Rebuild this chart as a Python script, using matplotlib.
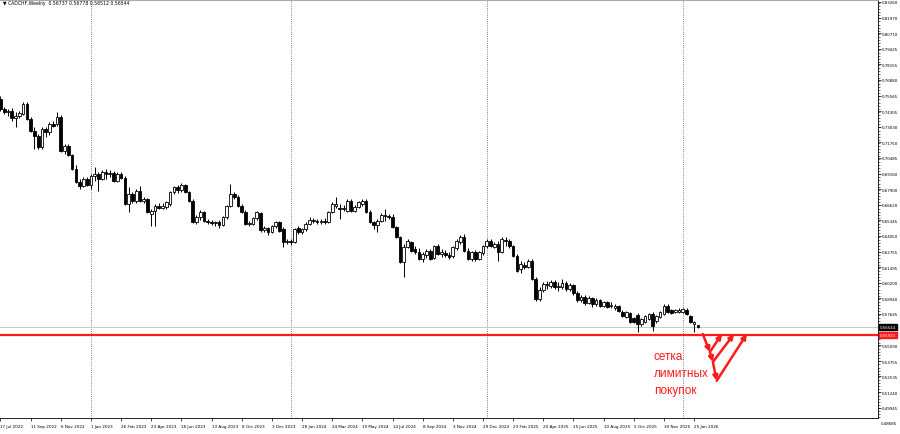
import matplotlib
matplotlib.use("Agg")
import matplotlib.pyplot as plt
import numpy as np
import pandas as pd

# weekly CADCHF bars, first bar 17 Jul 2022
opens = [
    0.7530, 0.7448, 0.7423, 0.7431, 0.7374, 0.7390, 0.7407, 0.7489, 0.7365, 0.7267,
    0.7226, 0.7136, 0.7283, 0.7259, 0.7324, 0.7324, 0.7382, 0.7103, 0.7144, 0.7070,
    0.6955, 0.6848, 0.6815, 0.6873, 0.6824, 0.6898, 0.6914, 0.6873, 0.6930, 0.6914,
    0.6922, 0.6857, 0.6914, 0.6881, 0.6668, 0.6750, 0.6692, 0.6774, 0.6692, 0.6709,
    0.6586, 0.6610, 0.6651, 0.6635, 0.6643, 0.6668, 0.6766, 0.6807, 0.6783, 0.6824,
    0.6766, 0.6692, 0.6520, 0.6561, 0.6602, 0.6528, 0.6520, 0.6512, 0.6520, 0.6495,
    0.6561, 0.6651, 0.6750, 0.6725, 0.6651, 0.6602, 0.6503, 0.6503, 0.6553, 0.6594,
    0.6454, 0.6471, 0.6438, 0.6487, 0.6520, 0.6462, 0.6356, 0.6364, 0.6356, 0.6471,
    0.6438, 0.6462, 0.6503, 0.6536, 0.6528, 0.6520, 0.6528, 0.6520, 0.6602, 0.6651,
    0.6635, 0.6627, 0.6610, 0.6692, 0.6610, 0.6643, 0.6668, 0.6692, 0.6602, 0.6520,
    0.6495, 0.6528, 0.6577, 0.6569, 0.6561, 0.6479, 0.6397, 0.6192, 0.6315, 0.6356,
    0.6298, 0.6273, 0.6216, 0.6249, 0.6282, 0.6224, 0.6323, 0.6257, 0.6265, 0.6249,
    0.6241, 0.6306, 0.6356, 0.6397, 0.6282, 0.6216, 0.6273, 0.6216, 0.6265, 0.6323,
    0.6364, 0.6315, 0.6339, 0.6273, 0.6372, 0.6364, 0.6323, 0.6241, 0.6134, 0.6167,
    0.6151, 0.6200, 0.6052, 0.5888, 0.5962, 0.6011, 0.5994, 0.6027, 0.5986, 0.5986,
    0.6019, 0.5970, 0.6003, 0.5937, 0.5879, 0.5904, 0.5855, 0.5896, 0.5847, 0.5879,
    0.5830, 0.5863, 0.5830, 0.5814, 0.5830, 0.5781, 0.5740, 0.5773, 0.5732, 0.5757,
    0.5682, 0.5699, 0.5724, 0.5765, 0.5707, 0.5740, 0.5765, 0.5830, 0.5798, 0.5781,
    0.5781, 0.5781, 0.5798, 0.5748, 0.5682, 0.56737,
]
highs = [
    0.7554, 0.7464, 0.7448, 0.7456, 0.7423, 0.7431, 0.7505, 0.7505, 0.7382, 0.7300,
    0.7242, 0.7300, 0.7300, 0.7341, 0.7349, 0.7423, 0.7398, 0.7160, 0.7160, 0.7078,
    0.6988, 0.6873, 0.6890, 0.6890, 0.6914, 0.6971, 0.6930, 0.6947, 0.6955, 0.6947,
    0.6938, 0.6930, 0.6930, 0.6898, 0.6807, 0.6766, 0.6791, 0.6815, 0.6725, 0.6717,
    0.6627, 0.6668, 0.6676, 0.6676, 0.6692, 0.6774, 0.6815, 0.6824, 0.6840, 0.6832,
    0.6774, 0.6709, 0.6577, 0.6618, 0.6610, 0.6545, 0.6536, 0.6528, 0.6536, 0.6569,
    0.6659, 0.6832, 0.6766, 0.6742, 0.6668, 0.6618, 0.6528, 0.6561, 0.6610, 0.6602,
    0.6487, 0.6479, 0.6495, 0.6528, 0.6528, 0.6479, 0.6380, 0.6380, 0.6471, 0.6487,
    0.6471, 0.6520, 0.6561, 0.6553, 0.6545, 0.6545, 0.6553, 0.6610, 0.6684, 0.6725,
    0.6668, 0.6659, 0.6709, 0.6709, 0.6659, 0.6692, 0.6709, 0.6709, 0.6618, 0.6528,
    0.6545, 0.6594, 0.6627, 0.6586, 0.6586, 0.6487, 0.6405, 0.6339, 0.6380, 0.6364,
    0.6323, 0.6306, 0.6273, 0.6298, 0.6298, 0.6331, 0.6339, 0.6298, 0.6290, 0.6273,
    0.6323, 0.6380, 0.6413, 0.6421, 0.6306, 0.6282, 0.6290, 0.6282, 0.6331, 0.6380,
    0.6380, 0.6356, 0.6364, 0.6397, 0.6397, 0.6380, 0.6331, 0.6257, 0.6200, 0.6192,
    0.6216, 0.6216, 0.6068, 0.5986, 0.6027, 0.6035, 0.6044, 0.6044, 0.6027, 0.6052,
    0.6035, 0.6019, 0.6011, 0.5953, 0.5921, 0.5921, 0.5912, 0.5904, 0.5896, 0.5888,
    0.5871, 0.5871, 0.5863, 0.5847, 0.5839, 0.5798, 0.5789, 0.5781, 0.5740, 0.5773,
    0.5732, 0.5757, 0.5773, 0.5781, 0.5757, 0.5789, 0.5847, 0.5847, 0.5806, 0.5806,
    0.5814, 0.5814, 0.5814, 0.5757, 0.5707, 0.56778,
]
lows = [
    0.7431, 0.7407, 0.7390, 0.7349, 0.7300, 0.7374, 0.7398, 0.7357, 0.7259, 0.7119,
    0.7119, 0.7119, 0.7218, 0.7234, 0.7300, 0.7308, 0.7095, 0.7078, 0.7062, 0.6947,
    0.6840, 0.6791, 0.6807, 0.6815, 0.6791, 0.6857, 0.6774, 0.6865, 0.6873, 0.6890,
    0.6848, 0.6848, 0.6873, 0.6659, 0.6602, 0.6676, 0.6676, 0.6684, 0.6676, 0.6594,
    0.6487, 0.6487, 0.6627, 0.6627, 0.6627, 0.6651, 0.6750, 0.6758, 0.6766, 0.6758,
    0.6684, 0.6512, 0.6503, 0.6536, 0.6520, 0.6503, 0.6495, 0.6487, 0.6471, 0.6487,
    0.6545, 0.6643, 0.6709, 0.6643, 0.6594, 0.6495, 0.6487, 0.6495, 0.6536, 0.6438,
    0.6438, 0.6413, 0.6430, 0.6471, 0.6438, 0.6315, 0.6339, 0.6331, 0.6347, 0.6421,
    0.6421, 0.6446, 0.6495, 0.6512, 0.6503, 0.6503, 0.6503, 0.6512, 0.6594, 0.6635,
    0.6545, 0.6610, 0.6602, 0.6602, 0.6602, 0.6635, 0.6651, 0.6594, 0.6512, 0.6462,
    0.6438, 0.6520, 0.6528, 0.6545, 0.6471, 0.6389, 0.6183, 0.6068, 0.6306, 0.6273,
    0.6257, 0.6208, 0.6192, 0.6224, 0.6208, 0.6216, 0.6249, 0.6232, 0.6232, 0.6216,
    0.6224, 0.6290, 0.6339, 0.6273, 0.6208, 0.6200, 0.6200, 0.6208, 0.6249, 0.6306,
    0.6315, 0.6306, 0.6200, 0.6265, 0.6323, 0.6306, 0.6232, 0.6109, 0.6101, 0.6134,
    0.6142, 0.6044, 0.5871, 0.5871, 0.5945, 0.5970, 0.5978, 0.5970, 0.5953, 0.5970,
    0.5953, 0.5953, 0.5921, 0.5863, 0.5863, 0.5839, 0.5847, 0.5822, 0.5830, 0.5822,
    0.5822, 0.5814, 0.5814, 0.5798, 0.5781, 0.5740, 0.5732, 0.5691, 0.5691, 0.5617,
    0.5666, 0.5691, 0.5716, 0.5625, 0.5691, 0.5732, 0.5757, 0.5773, 0.5765, 0.5773,
    0.5773, 0.5773, 0.5757, 0.5691, 0.5617, 0.56512,
]
closes = [
    0.7448, 0.7423, 0.7431, 0.7374, 0.7390, 0.7415, 0.7489, 0.7365, 0.7267, 0.7226,
    0.7136, 0.7283, 0.7259, 0.7324, 0.7308, 0.7382, 0.7103, 0.7144, 0.7070, 0.6955,
    0.6848, 0.6815, 0.6873, 0.6824, 0.6898, 0.6914, 0.6873, 0.6930, 0.6914, 0.6922,
    0.6857, 0.6914, 0.6881, 0.6668, 0.6750, 0.6692, 0.6774, 0.6692, 0.6709, 0.6602,
    0.6610, 0.6651, 0.6635, 0.6651, 0.6684, 0.6766, 0.6807, 0.6783, 0.6824, 0.6766,
    0.6692, 0.6520, 0.6561, 0.6602, 0.6528, 0.6520, 0.6512, 0.6520, 0.6495, 0.6561,
    0.6651, 0.6750, 0.6725, 0.6651, 0.6602, 0.6503, 0.6512, 0.6553, 0.6602, 0.6454,
    0.6471, 0.6438, 0.6487, 0.6520, 0.6446, 0.6356, 0.6364, 0.6356, 0.6462, 0.6438,
    0.6462, 0.6503, 0.6536, 0.6528, 0.6520, 0.6528, 0.6520, 0.6602, 0.6668, 0.6668,
    0.6627, 0.6635, 0.6692, 0.6610, 0.6643, 0.6684, 0.6692, 0.6602, 0.6520, 0.6495,
    0.6528, 0.6577, 0.6569, 0.6561, 0.6479, 0.6397, 0.6192, 0.6315, 0.6364, 0.6282,
    0.6273, 0.6216, 0.6257, 0.6282, 0.6216, 0.6323, 0.6257, 0.6273, 0.6249, 0.6232,
    0.6315, 0.6364, 0.6397, 0.6282, 0.6216, 0.6273, 0.6216, 0.6273, 0.6323, 0.6364,
    0.6323, 0.6339, 0.6273, 0.6380, 0.6364, 0.6323, 0.6241, 0.6118, 0.6175, 0.6151,
    0.6200, 0.6052, 0.5888, 0.5962, 0.6011, 0.6003, 0.6027, 0.5986, 0.5994, 0.6019,
    0.5970, 0.6003, 0.5937, 0.5879, 0.5904, 0.5855, 0.5896, 0.5847, 0.5879, 0.5830,
    0.5863, 0.5822, 0.5839, 0.5830, 0.5789, 0.5748, 0.5781, 0.5699, 0.5699, 0.5682,
    0.5724, 0.5748, 0.5765, 0.5666, 0.5748, 0.5781, 0.5830, 0.5781, 0.5773, 0.5798,
    0.5798, 0.5806, 0.5765, 0.5699, 0.5699, 0.56544,
]

weeks = pd.date_range("2022-07-17", periods=len(closes), freq="7D")

date_labels = ["17 Jul 2022", "11 Sep 2022", "6 Nov 2022", "1 Jan 2023", "26 Feb 2023",
               "23 Apr 2023", "18 Jun 2023", "13 Aug 2023", "8 Oct 2023", "3 Dec 2023",
               "28 Jan 2024", "24 Mar 2024", "19 May 2024", "14 Jul 2024", "8 Sep 2024",
               "3 Nov 2024", "29 Dec 2024", "23 Feb 2025", "20 Apr 2025", "15 Jun 2025",
               "10 Aug 2025", "5 Oct 2025", "30 Nov 2025", "25 Jan 2026"]

price_ticks = [0.83260, 0.81970, 0.80710, 0.79425, 0.78155, 0.76880, 0.75565, 0.74305,
               0.73030, 0.71750, 0.70485, 0.69160, 0.67900, 0.66620, 0.65345, 0.64050,
               0.62755, 0.61495, 0.60200, 0.58940, 0.57645, 0.55090, 0.53755, 0.52535,
               0.51240, 0.49945]
bottom_tick = "0.48685"

year_starts = ["2023-01-01", "2024-01-07", "2025-01-05", "2026-01-04"]

last_price = 0.56544
red_level = 0.55921
red_label = "0.55921"
header = "\u25bc CADCHF,Weekly  0.56737 0.56778 0.56512 0.56544"
note = "сетка\nлимитных\nпокупок"

fig = plt.figure(figsize=(9, 4.35), dpi=100)
ax = fig.add_axes([0, 16 / 435, 878 / 900, 418 / 435])

idx = np.arange(len(closes))
o = np.array(opens)
h = np.array(highs)
l = np.array(lows)
c = np.array(closes)

ax.vlines(idx, l, h, color="black", lw=0.7, zorder=2)
bull = c >= o
body_lo = np.minimum(o, c)
body_h = np.maximum(np.abs(c - o), 0.0002)
ax.bar(idx[bull], body_h[bull], bottom=body_lo[bull], width=0.7,
       color="white", edgecolor="black", lw=0.6, zorder=3)
ax.bar(idx[~bull], body_h[~bull], bottom=body_lo[~bull], width=0.7,
       color="black", edgecolor="black", lw=0.6, zorder=3)

# period separators
for ys in year_starts:
    pos = weeks.get_loc(pd.Timestamp(ys))
    ax.axvline(pos, color="#555555", lw=0.6, ls=(0, (1, 1.6)), zorder=1)

# bid line and red level
ax.axhline(last_price, color="#c8c8c8", lw=0.7, zorder=1)
ax.axhline(red_level, color="#ff1a1a", lw=1.6, zorder=4)

# grid of limit buys
down = [(186.3, 0.5600), (188.2, 0.5453), (189.0, 0.5371), (190.0, 0.5216)]
tops = [191.4, 194.6, 198.0]
aprops = dict(arrowstyle="-|>", color="#ff1a1a", lw=1.8, mutation_scale=7,
              shrinkA=0, shrinkB=0)
for a, b in zip(down[:-1], down[1:]):
    ax.annotate("", xy=b, xytext=a, arrowprops=aprops, zorder=5)
for start, tx in zip(down[1:], tops):
    ax.annotate("", xy=(tx, 0.5600), xytext=start, arrowprops=aprops, zorder=5)

ax.text(173.3, 0.5472, note, color="#ff1a1a", fontsize=8.5,
        family="Liberation Sans", va="top", ha="left", linespacing=1.55)

ax.set_xlim(-0.13, 232.8)
ax.set_ylim(0.49106, 0.83424)

ax.yaxis.tick_right()
ax.set_yticks(price_ticks)
ax.set_yticklabels([f"{v:.5f}" for v in price_ticks])
ax.yaxis.set_minor_locator(matplotlib.ticker.MultipleLocator(0.00256))
ax.tick_params(axis="y", which="major", length=2, width=0.5, pad=0.8, labelsize=2.9)
ax.tick_params(axis="y", which="minor", length=1.2, width=0.4)

ax.set_xticks(np.arange(0, len(closes), 8)[:len(date_labels)])
ax.set_xticklabels(date_labels, ha="left")
ax.tick_params(axis="x", which="major", length=2.5, width=0.5, pad=1.5, labelsize=3.0)

ax.spines["left"].set_visible(False)
ax.spines["top"].set_color("#9a9a9a")
ax.spines["top"].set_linewidth(0.6)
for s in ["right", "bottom"]:
    ax.spines[s].set_linewidth(0.6)

# axis price boxes
ax.annotate("0.56544", xy=(1.002, last_price), xycoords=("axes fraction", "data"),
            fontsize=2.9, color="white", va="center", ha="left",
            bbox=dict(boxstyle="square,pad=0.25", fc="black", ec="black"))
ax.annotate(red_label, xy=(1.002, red_level), xycoords=("axes fraction", "data"),
            fontsize=2.9, color="white", va="center", ha="left",
            bbox=dict(boxstyle="square,pad=0.25", fc="#ff1a1a", ec="#ff1a1a"))

fig.text(880.5 / 900, 1 - 424 / 435, bottom_tick, fontsize=2.9, va="center", ha="left")
fig.text(3 / 900, 1 - 4 / 435, header, fontsize=3.3, va="center", ha="left")

fig.savefig("out.png", dpi=100)
